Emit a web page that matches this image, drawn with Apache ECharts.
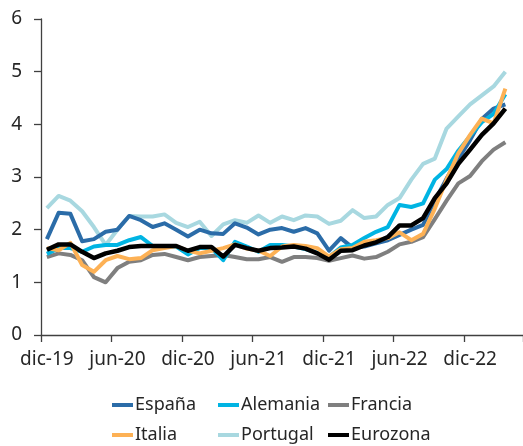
<!DOCTYPE html>
<html lang="es">
<head>
    <meta charset="UTF-8">
    <title>Inflación</title>
</head>
<body style="margin:0; background:#fff;">

    <div id="main" style="width:523px; height:446px;"></div>
    <script src="https://cdn.jsdelivr.net/npm/echarts@6/dist/echarts.min.js"></script>
    <script>
        // meses: dic-19 ... abr-23 (el último queda vacío)
        var meses = ['ene', 'feb', 'mar', 'abr', 'may', 'jun', 'jul', 'ago', 'sep', 'oct', 'nov', 'dic'];
        var categories = [];
        for (var k = 0; k < 41; k++) {
            var m = (11 + k) % 12;
            var y = 19 + Math.floor((11 + k) / 12);
            categories.push(meses[m] + '-' + y);
        }

        var espana = [1.82, 2.32, 2.3, 1.78, 1.82, 1.96, 2.0, 2.26, 2.18, 2.05, 2.12, 2.0, 1.87, 2.0, 1.93, 1.92, 2.12, 2.04, 1.91, 2.0,
            2.03, 1.96, 2.03, 1.93, 1.6, 1.84, 1.66, 1.68, 1.74, 1.8, 1.9, 2.0, 2.09, 2.55, 2.97, 3.35, 3.7, 4.1, 4.3, 4.38];
        var alemania = [1.54, 1.65, 1.65, 1.58, 1.68, 1.71, 1.71, 1.8, 1.86, 1.69, 1.69, 1.68, 1.53, 1.65, 1.65, 1.42, 1.77, 1.68, 1.58, 1.71,
            1.71, 1.68, 1.63, 1.56, 1.48, 1.66, 1.71, 1.84, 1.96, 2.05, 2.47, 2.43, 2.5, 2.95, 3.15, 3.5, 3.78, 4.04, 4.2, 4.57];
        var francia = [1.48, 1.55, 1.52, 1.42, 1.1, 1.0, 1.27, 1.39, 1.42, 1.52, 1.54, 1.48, 1.42, 1.48, 1.5, 1.52, 1.48, 1.44, 1.44, 1.48,
            1.39, 1.48, 1.48, 1.46, 1.41, 1.46, 1.51, 1.45, 1.48, 1.58, 1.72, 1.77, 1.86, 2.2, 2.55, 2.88, 3.02, 3.3, 3.52, 3.66];
        var italia = [1.65, 1.61, 1.75, 1.33, 1.2, 1.42, 1.5, 1.44, 1.46, 1.61, 1.65, 1.69, 1.6, 1.55, 1.6, 1.65, 1.72, 1.64, 1.6, 1.5,
            1.68, 1.71, 1.69, 1.65, 1.49, 1.63, 1.65, 1.77, 1.8, 1.84, 1.95, 1.8, 1.92, 2.4, 2.95, 3.45, 3.8, 4.11, 4.02, 4.68];
        var portugal = [2.41, 2.64, 2.55, 2.35, 2.05, 1.71, 2.0, 2.26, 2.25, 2.25, 2.29, 2.13, 2.05, 2.15, 1.88, 2.1, 2.18, 2.13, 2.27, 2.13,
            2.25, 2.18, 2.27, 2.25, 2.11, 2.17, 2.37, 2.22, 2.25, 2.47, 2.6, 2.95, 3.25, 3.35, 3.92, 4.15, 4.38, 4.55, 4.72, 5.0];
        var eurozona = [1.62, 1.72, 1.72, 1.58, 1.46, 1.55, 1.6, 1.67, 1.69, 1.69, 1.69, 1.69, 1.6, 1.67, 1.67, 1.49, 1.71, 1.65, 1.6, 1.65,
            1.66, 1.68, 1.64, 1.55, 1.43, 1.6, 1.61, 1.7, 1.76, 1.86, 2.08, 2.08, 2.22, 2.6, 2.88, 3.25, 3.52, 3.8, 4.02, 4.3];

        var nombres = ['España', 'Alemania', 'Francia', 'Italia', 'Portugal', 'Eurozona'];
        var valores = [espana, alemania, francia, italia, portugal, eurozona];
        var colores = ['#2b6ca8', '#00b4e3', '#7f7f7f', '#fdb155', '#a8d8e0', '#000000'];
        var grosor = [4, 4, 4, 4, 4, 4.5];
        // orden de dibujo (el último queda encima)
        var orden = [4, 0, 2, 1, 3, 5];

        // posiciones de la leyenda (2 filas x 3 columnas)
        var legX = [112, 218, 328, 112, 218, 328];
        var legY = [396, 396, 396, 426, 426, 426];

        var fuente = 'Noto Sans';

        var series = [];
        for (var j = 0; j < orden.length; j++) {
            var i = orden[j];
            series.push({
                name: nombres[i],
                type: 'line',
                data: valores[i],
                symbol: 'none',
                lineStyle: { color: colores[i], width: grosor[i], join: 'round' },
                itemStyle: { color: colores[i] },
                z: 2 + j
            });
        }

        var leyendas = [];
        for (var n = 0; n < nombres.length; n++) {
            leyendas.push({
                data: [nombres[n]],
                left: legX[n],
                top: legY[n],
                padding: 0,
                icon: 'rect',
                itemWidth: 21,
                itemHeight: 4,
                itemGap: 2,
                textStyle: { fontFamily: fuente, fontSize: 18, color: '#262626', padding: [0, 0, 0, -3] }
            });
        }

        var myChart = echarts.init(document.getElementById('main'));
        myChart.setOption({
            animation: false,
            legend: leyendas,
            grid: { left: 41, right: 0, top: 19, bottom: 111, containLabel: false },
            xAxis: {
                type: 'category',
                data: categories,
                boundaryGap: true,
                axisLine: { lineStyle: { color: '#404040', width: 1.3 } },
                axisTick: { show: true, interval: 5, length: 7, lineStyle: { color: '#404040', width: 1.3 } },
                axisLabel: { interval: 5, margin: 15, fontFamily: fuente, fontSize: 19, color: '#262626' },
                splitLine: { show: false }
            },
            yAxis: {
                type: 'value',
                min: 0,
                max: 6,
                interval: 1,
                axisLine: { show: true, lineStyle: { color: '#404040', width: 1.3 } },
                axisTick: { show: true, length: 7, lineStyle: { color: '#404040', width: 1.3 } },
                axisLabel: { margin: 19, fontFamily: fuente, fontSize: 19, color: '#262626' },
                splitLine: { show: false }
            },
            series: series
        });
    </script>
</body>
</html>
